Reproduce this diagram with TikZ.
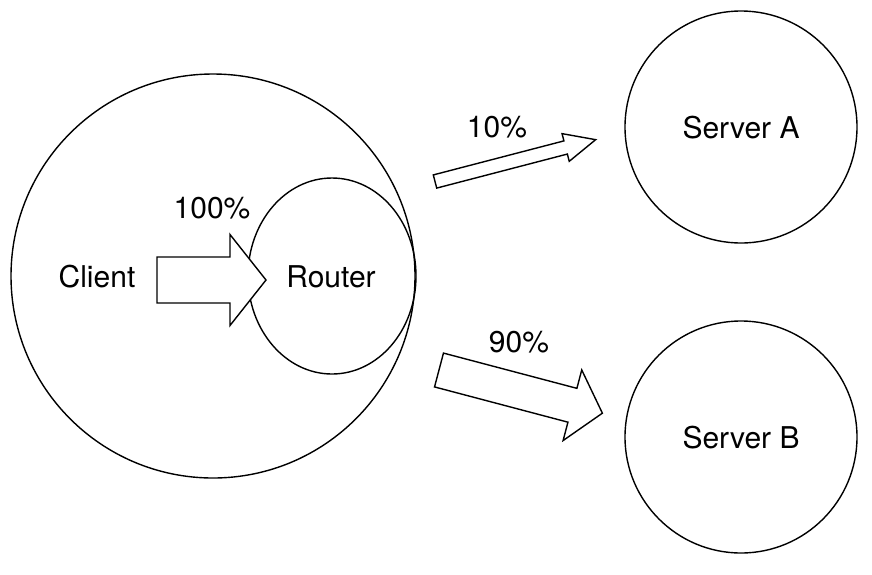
\documentclass[tikz,border=0pt]{standalone}
\usepackage{fontspec}
\setmainfont{TeX Gyre Heros}
\usetikzlibrary{shapes.geometric}
\tikzset{
  ring/.style={draw, line width=1.4pt, ellipse, inner sep=0pt},
  lbl/.style={font=\fontsize{30}{36}\selectfont, anchor=base, inner sep=0pt},
  blk/.style={draw, line width=1.4pt, line join=miter, fill=white},
}
% x y angle length bodyhalf headhalf headlen
\newcommand\blockarrow[7]{%
  \begin{scope}[shift={(#1,#2)}, rotate=#3]
    \draw[blk] (0,-#5) -- ({#4-#7},-#5) -- ({#4-#7},-#6) -- (#4,0)
      -- ({#4-#7},#6) -- ({#4-#7},#5) -- (0,#5) -- cycle;
  \end{scope}}
\begin{document}
\begin{tikzpicture}[x=1pt,y=-1pt]
\useasboundingbox[fill=white] (0,0) rectangle (872,574);
\node[ring, minimum width=404pt, minimum height=404pt] (client) at (213,276) {};
\node[ring, minimum width=168pt, minimum height=196pt] (router) at (332,276) {};
\node[ring, minimum width=232pt, minimum height=232pt] (srva) at (741,127) {};
\node[ring, minimum width=232pt, minimum height=232pt] (srvb) at (741,437) {};

\node[lbl] (clientlbl) at (97,287) {Client};
\node[lbl] (routerlbl) at (331,287) {Router};
\node[lbl] (p100) at (212,218) {100\%};
\node[lbl] (p10) at (497,137) {10\%};
\node[lbl] (p90) at (519,352) {90\%};
\node[lbl] (srvalbl) at (741,138) {Server A};
\node[lbl] (srvblbl) at (741,448) {Server B};

\blockarrow{157}{280}{0}{109}{23}{45.5}{36}
\blockarrow{435}{181.5}{14.6}{166}{6.8}{14.3}{31}
\blockarrow{439}{370}{-14.8}{169}{17.5}{36.5}{31}
\end{tikzpicture}
\end{document}
